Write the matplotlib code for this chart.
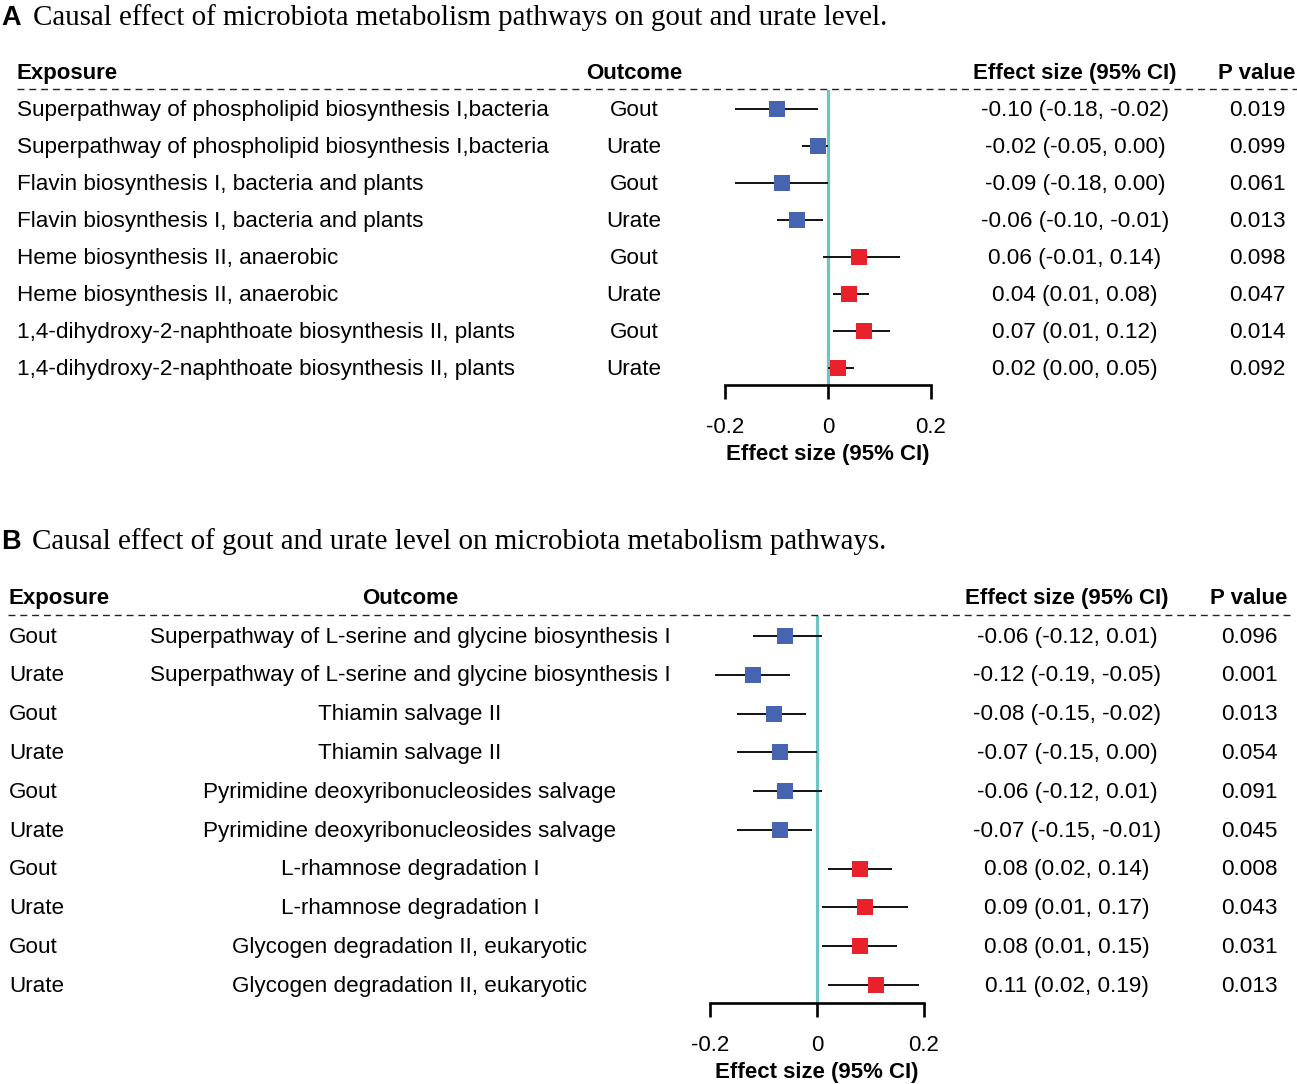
import matplotlib
matplotlib.use('Agg')
import matplotlib.pyplot as plt
from matplotlib.lines import Line2D
import matplotlib.transforms as mtransforms

W, H, DPI = 1297, 1084, 100

# ---------------- data ----------------
a_exposure = ["Superpathway of phospholipid biosynthesis I,bacteria",
              "Superpathway of phospholipid biosynthesis I,bacteria",
              "Flavin biosynthesis I, bacteria and plants",
              "Flavin biosynthesis I, bacteria and plants",
              "Heme biosynthesis II, anaerobic",
              "Heme biosynthesis II, anaerobic",
              "1,4-dihydroxy-2-naphthoate biosynthesis II, plants",
              "1,4-dihydroxy-2-naphthoate biosynthesis II, plants"]
a_outcome = ["Gout", "Urate", "Gout", "Urate", "Gout", "Urate", "Gout", "Urate"]
a_est = [-0.10, -0.02, -0.09, -0.06, 0.06, 0.04, 0.07, 0.02]
a_lo = [-0.18, -0.05, -0.18, -0.10, -0.01, 0.01, 0.01, 0.00]
a_hi = [-0.02, 0.00, 0.00, -0.01, 0.14, 0.08, 0.12, 0.05]
a_p = ["0.019", "0.099", "0.061", "0.013", "0.098", "0.047", "0.014", "0.092"]

b_exposure = ["Gout", "Urate"] * 5
b_outcome = ["Superpathway of L-serine and glycine biosynthesis I",
             "Superpathway of L-serine and glycine biosynthesis I",
             "Thiamin salvage II", "Thiamin salvage II",
             "Pyrimidine deoxyribonucleosides salvage",
             "Pyrimidine deoxyribonucleosides salvage",
             "L-rhamnose degradation I", "L-rhamnose degradation I",
             "Glycogen degradation II, eukaryotic",
             "Glycogen degradation II, eukaryotic"]
b_est = [-0.06, -0.12, -0.08, -0.07, -0.06, -0.07, 0.08, 0.09, 0.08, 0.11]
b_lo = [-0.12, -0.19, -0.15, -0.15, -0.12, -0.15, 0.02, 0.01, 0.01, 0.02]
b_hi = [0.01, -0.05, -0.02, 0.00, 0.01, -0.01, 0.14, 0.17, 0.15, 0.19]
b_p = ["0.096", "0.001", "0.013", "0.054", "0.091", "0.045", "0.008", "0.043", "0.031", "0.013"]

tick_vals = [-0.2, 0, 0.2]
tick_labels = ["-0.2", "0", "0.2"]

titles = ["Causal effect of microbiota metabolism pathways on gout and urate level.",
          "Causal effect of gout and urate level on microbiota metabolism pathways."]
letters = ["A", "B"]
headers = ["Exposure", "Outcome", "Effect size (95% CI)", "P value"]
xlabel = "Effect size (95% CI)"

BLUE = "#4664B0"
RED = "#E8212B"
CYAN = "#6EC3C3"
SANS = ["Liberation Sans", "DejaVu Sans"]
SERIF = ["Liberation Serif", "DejaVu Serif"]
FS = 16.2
FSH = 16.0
VA = "center_baseline"

fig = plt.figure(figsize=(W / DPI, H / DPI), dpi=DPI)

def fx(x):
    return x / W

def fy(y):
    return 1 - y / H


def panel(cfg, exposure, outcome, est, lo, hi, pvals):
    n = len(est)
    y0, dy = cfg["row0"], cfg["dy"]
    ax = fig.add_axes([fx(cfg["xm"]), fy(cfg["axis_y"]),
                       (cfg["xp"] - cfg["xm"]) / W, (cfg["axis_y"] - cfg["top"]) / H])
    ax.set_xlim(-0.2, 0.2)
    ax.set_ylim((cfg["axis_y"] - y0) / dy, (cfg["top"] - y0) / dy)
    ax.patch.set_alpha(0)
    for s in ["left", "right", "top"]:
        ax.spines[s].set_visible(False)
    ax.spines["bottom"].set_linewidth(1.9)
    ax.set_yticks([])
    ax.set_xticks(tick_vals)
    ax.set_xticklabels(tick_labels, fontsize=FSH, family=SANS)
    ax.tick_params(axis="x", direction="out", length=10, width=1.9, pad=13)
    ax.axvline(0, color=CYAN, lw=2.3, zorder=1)
    rows = list(range(n))
    for i in rows:
        ax.plot([lo[i], hi[i]], [i, i], color="#111111", lw=1.4, zorder=2,
                solid_capstyle="butt")
        ax.plot([est[i]], [i], marker="s", ms=12, mew=0,
                color=BLUE if est[i] < 0 else RED, zorder=3)
    off = mtransforms.ScaledTranslation(0, 1.3 / DPI, fig.dpi_scale_trans)
    tr = mtransforms.blended_transform_factory(fig.transFigure, ax.transData) + off
    for i in rows:
        fig.text(fx(cfg["c_exp"]), i, exposure[i], transform=tr, ha=cfg["exp_ha"],
                 va=VA, fontsize=FS, family=SANS)
        fig.text(fx(cfg["c_out"]), i, outcome[i], transform=tr, ha=cfg["out_ha"],
                 va=VA, fontsize=FS, family=SANS)
        eff = f"{est[i]:.2f} ({lo[i]:.2f}, {hi[i]:.2f})"
        fig.text(fx(cfg["c_eff"]), i, eff, transform=tr, ha="center",
                 va=VA, fontsize=FS, family=SANS)
        fig.text(fx(cfg["c_p"]), i, pvals[i], transform=tr, ha="center",
                 va=VA, fontsize=FS, family=SANS)
    # headers
    hy = fy(cfg["head_y"])
    fig.text(fx(cfg["c_exp"]), hy, headers[0], ha="left", va=VA,
             fontsize=FSH, weight="bold", family=SANS)
    fig.text(fx(cfg["c_outh"]), hy, headers[1], ha="center", va=VA,
             fontsize=FSH, weight="bold", family=SANS)
    fig.text(fx(cfg["c_eff"]), hy, headers[2], ha="center", va=VA,
             fontsize=FSH, weight="bold", family=SANS)
    fig.text(fx(cfg["c_p"]), hy, headers[3], ha="center", va=VA,
             fontsize=FSH, weight="bold", family=SANS)
    fig.add_artist(Line2D([fx(cfg["dash_x0"]), fx(cfg["dash_x1"])],
                          [fy(cfg["dash_y"]), fy(cfg["dash_y"])],
                          color="#222222", lw=1.0, ls=(0, (5, 3.5))))
    # titles
    fig.text(fx(1), fy(cfg["title_y"]), cfg["letter"], ha="left", va=VA,
             fontsize=19.5, weight="bold", family=SANS)
    fig.text(fx(cfg["title_x"]), fy(cfg["title_y"]), cfg["title"], ha="left",
             va=VA, fontsize=20.9, family=SERIF)
    fig.text(fx((cfg["xm"] + cfg["xp"]) / 2), fy(cfg["xlab_y"]), xlabel,
             ha="center", va=VA, fontsize=FSH, weight="bold", family=SANS)
    return ax


cfgA = dict(letter=letters[0], title=titles[0], title_x=33, title_y=15,
            xm=725, xp=931, top=90, axis_y=385, row0=109, dy=37,
            c_exp=17, exp_ha="left", c_out=634, out_ha="center", c_outh=634,
            c_eff=1075, c_p=1257, head_y=71, dash_y=89, dash_x0=17, dash_x1=1297,
            xlab_y=452)
cfgB = dict(letter=letters[1], title=titles[1], title_x=32, title_y=539,
            xm=710, xp=924, top=616, axis_y=1003, row0=636, dy=38.78,
            c_exp=9, exp_ha="left", c_out=410, out_ha="center", c_outh=410,
            c_eff=1067, c_p=1249, head_y=596, dash_y=615, dash_x0=8, dash_x1=1290,
            xlab_y=1070)

panel(cfgA, a_exposure, a_outcome, a_est, a_lo, a_hi, a_p)
panel(cfgB, b_exposure, b_outcome, b_est, b_lo, b_hi, b_p)

fig.savefig("out.png", dpi=DPI)
